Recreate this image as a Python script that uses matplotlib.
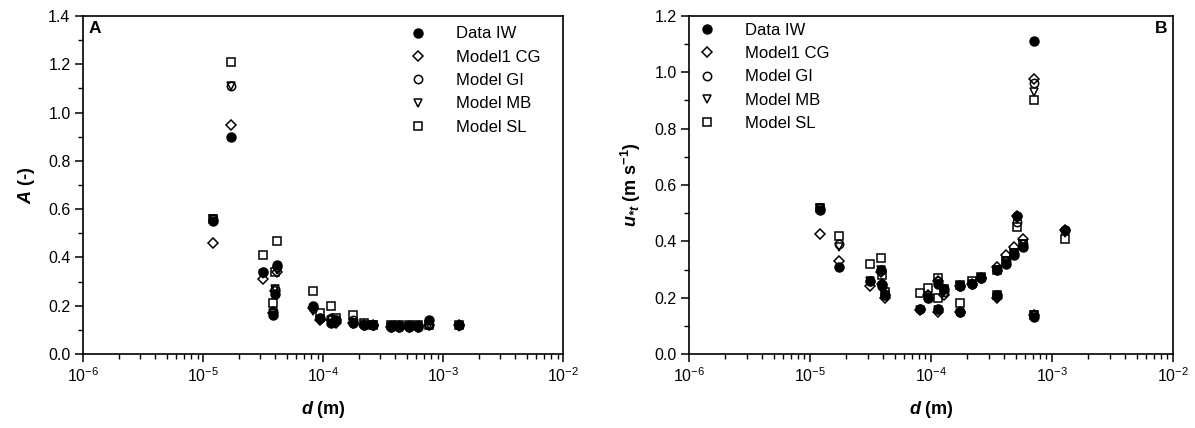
import matplotlib
matplotlib.use('Agg')
import matplotlib.pyplot as plt
from matplotlib.ticker import LogLocator, MultipleLocator, FormatStrFormatter, NullFormatter

plt.rcParams['font.family'] = ['Liberation Sans', 'DejaVu Sans']
plt.rcParams['axes.unicode_minus'] = False
plt.rcParams['mathtext.fontset'] = 'custom'
plt.rcParams['mathtext.rm'] = 'Liberation Sans'
plt.rcParams['mathtext.it'] = 'Liberation Sans:italic'
plt.rcParams['mathtext.bf'] = 'Liberation Sans:bold'
plt.rcParams['mathtext.bfit'] = 'Liberation Sans:italic:bold'

# Panel A: A (-) versus particle diameter
d_a = [1.22e-5, 1.72e-5, 3.15e-5, 3.85e-5, 3.95e-5, 4.15e-5, 8.2e-5, 9.4e-5,
       1.17e-4, 1.28e-4, 1.77e-4, 2.2e-4, 2.63e-4, 3.67e-4, 4.32e-4, 5.25e-4,
       6.2e-4, 7.6e-4, 1.37e-3]
iw_a = [0.55, 0.90, 0.34, 0.16, 0.25, 0.37, 0.20, 0.15, 0.13, 0.14, 0.13, 0.12,
        0.12, 0.11, 0.11, 0.11, 0.11, 0.14, 0.12]
cg_a = [0.46, 0.95, 0.31, 0.17, 0.26, 0.34, 0.19, 0.14, 0.14, 0.13, 0.13, 0.12,
        0.12, 0.11, 0.11, 0.11, 0.11, 0.12, 0.12]
gi_a = [0.56, 1.11, 0.34, 0.18, 0.27, 0.36, 0.19, 0.15, 0.15, 0.14, 0.14, 0.12,
        0.12, 0.12, 0.12, 0.12, 0.12, 0.12, 0.12]
mb_a = [0.56, 1.11, 0.33, 0.17, 0.27, 0.35, 0.18, 0.14, 0.14, 0.13, 0.13, 0.12,
        0.12, 0.11, 0.11, 0.11, 0.11, 0.12, 0.11]
sl_a = [0.56, 1.21, 0.41, 0.21, 0.34, 0.47, 0.26, 0.17, 0.20, 0.15, 0.16, 0.13,
        0.12, 0.12, 0.12, 0.12, 0.12, 0.12, 0.12]

# Panel B: threshold friction velocity versus particle diameter
d_b = [1.21e-5, 1.74e-5, 3.15e-5, 3.85e-5, 3.95e-5, 4.15e-5, 8.15e-5, 9.4e-5,
       1.14e-4, 1.15e-4, 1.28e-4, 1.75e-4, 1.75e-4, 2.2e-4, 2.58e-4, 3.49e-4,
       3.49e-4, 4.14e-4, 4.85e-4, 5.16e-4, 5.8e-4, 7.1e-4, 7.1e-4, 1.28e-3]
iw_b = [0.51, 0.31, 0.26, 0.30, 0.24, 0.21, 0.16, 0.20, 0.25, 0.16, 0.23, 0.24,
        0.15, 0.25, 0.27, 0.30, 0.21, 0.32, 0.35, 0.49, 0.38, 1.11, 0.13, 0.44]
cg_b = [0.425, 0.33, 0.24, 0.29, 0.25, 0.20, 0.155, 0.21, 0.26, 0.15, 0.21, 0.24,
        0.15, 0.25, 0.27, 0.31, 0.20, 0.35, 0.38, 0.49, 0.41, 0.975, 0.14, 0.44]
gi_b = [0.52, 0.39, 0.26, 0.30, 0.25, 0.21, 0.16, 0.20, 0.26, 0.16, 0.22, 0.24,
        0.15, 0.25, 0.27, 0.30, 0.21, 0.33, 0.36, 0.47, 0.39, 0.963, 0.14, 0.44]
mb_b = [0.52, 0.38, 0.26, 0.30, 0.24, 0.21, 0.155, 0.20, 0.25, 0.155, 0.22, 0.24,
        0.145, 0.25, 0.27, 0.30, 0.20, 0.33, 0.36, 0.48, 0.39, 0.93, 0.14, 0.43]
sl_b = [0.52, 0.42, 0.32, 0.34, 0.28, 0.22, 0.215, 0.235, 0.27, 0.20, 0.23, 0.245,
        0.18, 0.26, 0.275, 0.30, 0.21, 0.33, 0.36, 0.45, 0.39, 0.90, 0.14, 0.41]

labels = ['Data IW', 'Model1 CG', 'Model GI', 'Model MB', 'Model SL']
markers = ['o', 'D', 'o', 'v', 's']
sizes = [6.5, 5, 6, 6, 6]


def style_axes(ax, ymax):
    ax.set_xscale('log')
    ax.set_xlim(1e-6, 1e-2)
    ax.set_ylim(0, ymax)
    ax.xaxis.set_major_locator(LogLocator(base=10, numticks=10))
    ax.xaxis.set_minor_locator(LogLocator(base=10, subs=range(2, 10), numticks=10))
    ax.xaxis.set_minor_formatter(NullFormatter())
    ax.yaxis.set_major_locator(MultipleLocator(0.2))
    ax.yaxis.set_minor_locator(MultipleLocator(0.1))
    ax.yaxis.set_major_formatter(FormatStrFormatter('%.1f'))
    ax.tick_params(which='major', direction='out', length=6, width=1.1, labelsize=11.5, pad=3)
    ax.tick_params(which='minor', direction='out', length=3.5, width=1)
    for s in ax.spines.values():
        s.set_linewidth(1.2)
    ax.set_xlabel(r'$\mathbfit{d}$ (m)', fontsize=13, fontweight='bold', labelpad=10)


def draw(ax, d, series):
    for vals, lab, mk, ms in zip(series, labels, markers, sizes):
        if lab == 'Data IW':
            ax.plot(d, vals, linestyle='none', marker=mk, markersize=ms,
                    color='black', label=lab)
        else:
            ax.plot(d, vals, linestyle='none', marker=mk, markersize=ms,
                    markerfacecolor='none', markeredgecolor='black',
                    markeredgewidth=1.1, label=lab)


fig = plt.figure(figsize=(11.95, 4.28), dpi=100)
axA = fig.add_axes([83 / 1195, 74 / 428, 480 / 1195, 338 / 428])
axB = fig.add_axes([689 / 1195, 74 / 428, 484 / 1195, 338 / 428])

style_axes(axA, 1.4)
style_axes(axB, 1.2)

draw(axA, d_a, [iw_a, cg_a, gi_a, mb_a, sl_a])
draw(axB, d_b, [iw_b, cg_b, gi_b, mb_b, sl_b])

axA.set_ylabel(r'$\mathbfit{A}$ (-)', fontsize=13, fontweight='bold', labelpad=8)
axB.set_ylabel(r'$\mathbfit{u}_{\mathbfit{*t}}$ (m s$^{\mathbf{-1}}$)', fontsize=13,
               fontweight='bold', labelpad=8)

axA.text(0.012, 0.985, 'A', transform=axA.transAxes, fontsize=12.5,
         fontweight='bold', ha='left', va='top')
axB.text(0.988, 0.985, 'B', transform=axB.transAxes, fontsize=12.5,
         fontweight='bold', ha='right', va='top')

leg_kw = dict(frameon=False, numpoints=1, fontsize=12, handlelength=1.0,
              handletextpad=1.8, labelspacing=0.5, borderpad=0, borderaxespad=0,
              loc='upper left')
axA.legend(bbox_to_anchor=(0.68, 0.969), **leg_kw)
axB.legend(bbox_to_anchor=(0.02, 0.98), **leg_kw)

fig.savefig('out.png', dpi=100)
